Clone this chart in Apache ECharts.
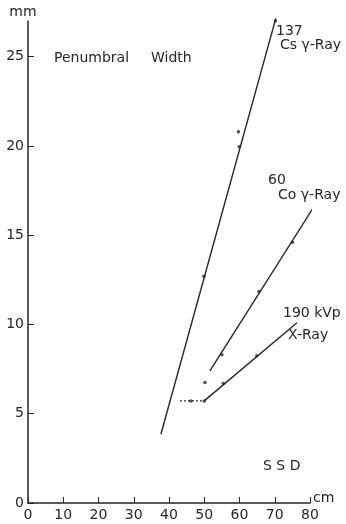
<!DOCTYPE html>
<html><head><meta charset="utf-8">
<script src="https://cdn.jsdelivr.net/npm/echarts@6/dist/echarts.min.js"></script>
<style>html,body{margin:0;padding:0;background:#fff}#c{width:346px;height:524px}</style>
</head><body><div id="c"></div>
<script>
const xTicks = [0,10,20,30,40,50,60,70,80];
const yTicks = [0,5,10,15,20,25];
const csLine = [[37.7,3.85],[70.3,27.15]];
const csPoints = [[49.9,12.7],[59.9,19.95],[59.7,20.8],[70.2,27.0]];
const coLine = [[51.6,7.4],[80.8,16.5]];
const coPoints = [[55.0,8.3],[65.5,11.85],[75.0,14.6]];
const extraPoint = [[50.2,6.75]];
const xrDashed = [[43.1,5.72],[50.0,5.72]];
const xrLine = [[50.0,5.72],[76.3,10.1]];
const xrPoints = [[46.2,5.72],[50.0,5.72],[55.4,6.7],[64.9,8.25]];

const ink = '#262626';
const font = 'DejaVu Sans';
const chart = echarts.init(document.getElementById('c'));
function lineS(data, dashed){
  return {type:'line', data, showSymbol:false, clip:false, silent:true,
    lineStyle:{color:ink, width:1.4, type: dashed ? [2,2] : 'solid'}};
}
function ptsS(data){
  return {type:'scatter', data, symbol:'circle', symbolSize:3.5, clip:false, silent:true,
    itemStyle:{color:ink}};
}
const txt = (text, left, top, extra) => ({type:'text', left, top,
  style:Object.assign({text, font:'14px "' + font + '"', fill:ink}, extra||{})});
chart.setOption({
  animation:false,
  backgroundColor:'#fff',
  grid:{left:28, right:36, top:21, bottom:21},
  xAxis:{type:'value', min:0, max:80, interval:10,
    name:'cm', nameLocation:'end', nameGap:3,
    nameTextStyle:{color:ink, fontSize:14, fontFamily:font, verticalAlign:'bottom', padding:[0,0,-2,0]},
    axisLine:{show:true, lineStyle:{color:ink, width:1.5}},
    axisTick:{show:true, inside:true, length:6, lineStyle:{color:ink}},
    axisLabel:{color:ink, fontSize:14, fontFamily:font, margin:5,
      formatter:v => xTicks.includes(v) ? String(v) : ''},
    splitLine:{show:false}},
  yAxis:{type:'value', min:0, max:27, interval:5,
    name:'mm', nameLocation:'end', nameGap:2,
    nameTextStyle:{color:ink, fontSize:14, fontFamily:font, padding:[0,10,0,0]},
    axisLine:{show:true, lineStyle:{color:ink, width:1.5}},
    axisTick:{show:true, inside:true, length:6, lineStyle:{color:ink}},
    axisLabel:{color:ink, fontSize:14, fontFamily:font, margin:4, showMaxLabel:false,
      formatter:v => yTicks.includes(v) ? String(v) : ''},
    splitLine:{show:false}},
  series:[
    lineS(csLine), ptsS(csPoints),
    lineS(coLine), ptsS(coPoints), ptsS(extraPoint),
    lineS(xrDashed, true), lineS(xrLine), ptsS(xrPoints)
  ],
  graphic:[
    txt('Penumbral', 54, 51),
    txt('Width', 151, 51),
    txt('137', 276, 24),
    txt('Cs γ-Ray', 280, 38),
    txt('60', 268, 173),
    txt('Co γ-Ray', 278, 188),
    txt('190 kVp', 283, 306),
    txt('X-Ray', 288, 328),
    txt('S S D', 263, 459)
  ]
});
</script></body></html>
